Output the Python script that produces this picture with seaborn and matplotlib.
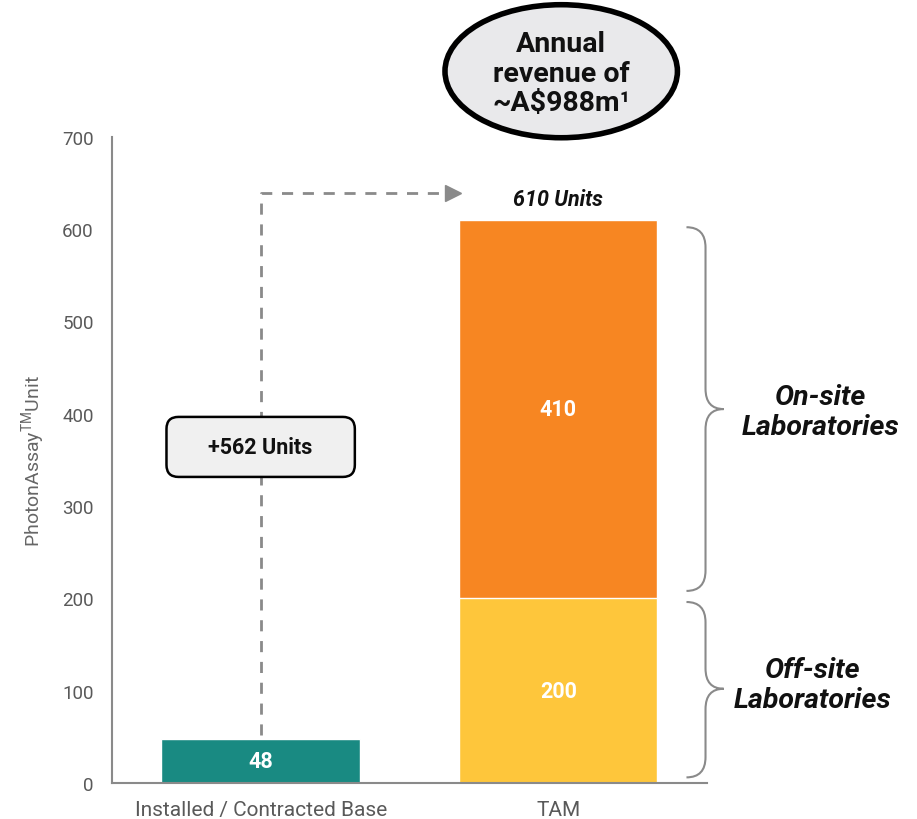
import seaborn as sns
import matplotlib.pyplot as plt
from matplotlib.patches import Ellipse, FancyBboxPatch, PathPatch
from matplotlib.path import Path
import pandas as pd

sns.set_style("white")
plt.rcParams["font.family"] = ["Roboto", "DejaVu Sans"]
plt.rcParams["mathtext.fontset"] = "custom"
plt.rcParams["mathtext.rm"] = "Roboto"

categories = ["Installed / Contracted Base", "TAM"]
totals = [48, 610]          # installed base, TAM total
offsite = [0, 200]          # off-site part of TAM
onsite = 410
growth = 562

teal = "#198a82"
orange = "#f78622"
yellow = "#fec63b"
grey = "#8a8a8a"

fig = plt.figure(figsize=(9.17, 8.2), dpi=100)
ax = fig.add_axes([0.122, 0.044, 0.649, 0.788])

df = pd.DataFrame({"cat": categories, "total": totals, "off": offsite})
sns.barplot(data=df, x="cat", y="total", hue="cat", palette=[teal, orange],
            width=0.667, legend=False, ax=ax, saturation=1)
sns.barplot(data=df, x="cat", y="off", color=yellow, width=0.667, ax=ax, saturation=1)

ax.set_xlim(-0.5, 1.5)
ax.set_ylim(0, 700)
ax.set_yticks(range(0, 701, 100))
ax.set_xlabel("")
ax.set_ylabel(r"PhotonAssay$^{\mathrm{TM}}$Unit", fontsize=14, color="#666666", labelpad=10)
sns.despine(ax=ax)
for s in ["left", "bottom"]:
    ax.spines[s].set_color(grey)
    ax.spines[s].set_linewidth(1.5)
ax.tick_params(axis="y", length=6, width=1.5, color=grey, labelsize=13.5, labelcolor="#595959", pad=7)
ax.tick_params(axis="x", length=0, labelsize=15, labelcolor="#595959", pad=12)

# bar value labels
lbl = dict(ha="center", va="center", color="white", fontsize=15.5, fontweight="bold")
ax.text(0, totals[0] / 2, str(totals[0]), **lbl)
ax.text(1, offsite[1] + onsite / 2, str(onsite), **lbl)
ax.text(1, offsite[1] / 2, str(offsite[1]), **lbl)
ax.text(1, totals[1] + 23, f"{totals[1]} Units", ha="center", va="center",
        fontsize=15.5, fontweight="bold", fontstyle="italic", color="#111111")

# dashed connector with arrow
ax.plot([0, 0, 0.625], [52, 639, 639], ls=(0, (4, 3.5)), color=grey, lw=2, clip_on=False)
ax.plot([0.645], [639], marker=">", ms=11, color=grey, clip_on=False)

# growth box
px_x = 1 / 297.0
px_y = 700 / 646.0
bw, bh = 188 * px_x, 60 * px_y
box = FancyBboxPatch((0 - bw / 2, 364 - bh / 2), bw, bh,
                     boxstyle=f"round,pad=0,rounding_size={12 * px_x}",
                     mutation_aspect=px_y / px_x, fc="#f0f0f0", ec="black", lw=1.8, zorder=5)
ax.add_patch(box)
ax.text(0, 364, f"+{growth} Units", ha="center", va="center", fontsize=15.5,
        fontweight="bold", color="#111111", zorder=6)

# revenue ellipse
ell = Ellipse((1.01, 771), 232 * px_x, 133 * px_y, fc="#e9e9eb", ec="black", lw=4,
              clip_on=False, zorder=5)
ax.add_patch(ell)
ax.text(1.01, 769, "Annual\nrevenue of\n~A\\$988m¹", ha="center", va="center",
        fontsize=20.5, fontweight="bold", color="#111111", linespacing=1.1,
        zorder=6, clip_on=False)


def brace(y_top, y_bot, y_tip):
    x_end, x_mid, x_tip = 1.431, 1.495, 1.556
    r = 22
    verts = [(x_end, y_top), (x_mid, y_top), (x_mid, y_top - r),
             (x_mid, y_tip + r), (x_mid, y_tip), (x_tip, y_tip),
             (x_mid, y_tip), (x_mid, y_tip - r),
             (x_mid, y_bot + r), (x_mid, y_bot), (x_end, y_bot)]
    codes = [Path.MOVETO, Path.CURVE3, Path.CURVE3,
             Path.LINETO, Path.CURVE3, Path.CURVE3,
             Path.CURVE3, Path.CURVE3,
             Path.LINETO, Path.CURVE3, Path.CURVE3]
    ax.add_patch(PathPatch(Path(verts, codes), fc="none", ec=grey, lw=1.5, clip_on=False))


brace(602, 208, 405)
brace(196, 6, 102)
ax.text(1.882, 402, "On-site\nLaboratories", ha="center", va="center", fontsize=20.5,
        fontweight="bold", fontstyle="italic", color="#111111", linespacing=1.15)
ax.text(1.855, 107, "Off-site\nLaboratories", ha="center", va="center", fontsize=20.5,
        fontweight="bold", fontstyle="italic", color="#111111", linespacing=1.15)

fig.savefig("out.png", dpi=100)
